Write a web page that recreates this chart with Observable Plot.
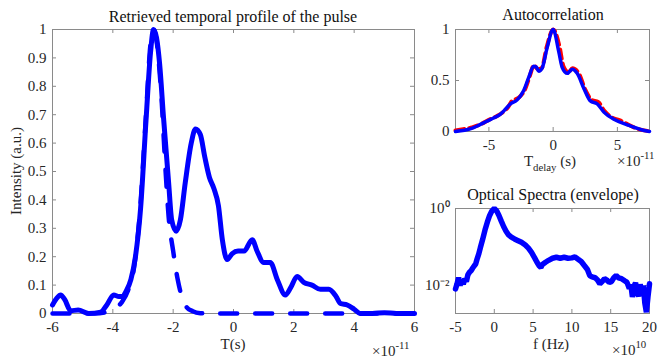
<!DOCTYPE html>
<html><head><meta charset="utf-8">
<script src="https://cdn.jsdelivr.net/npm/d3@7"></script>
<script src="https://cdn.jsdelivr.net/npm/@observablehq/plot@0.6"></script>
<style>
body{margin:0;background:#fff;}
#fig{position:relative;width:658px;height:360px;overflow:hidden;background:#fff}
#fig svg{position:absolute}
</style></head><body><div id="fig"></div>
<script>
// ---- Retrieved temporal profile (T in units of 1e-11 s)
const pulseT = [-6,-5.85,-5.73,-5.6,-5.4,-5.15,-4.8,-4.4,-4.2,-3.97,-3.8,-3.7,-3.55,-3.4,-3.25,-3.08,-2.9,-2.75,-2.65,-2.55,-2.45,-2.32,-2.15,-2.05,-1.9,-1.76,-1.6,-1.4,-1.26,-1.1,-0.95,-0.8,-0.65,-0.5,-0.37,-0.21,-0.05,0.15,0.35,0.62,0.78,1.0,1.22,1.45,1.72,1.89,2.11,2.33,2.6,2.88,3.16,3.4,3.55,3.77,4.0,4.2,4.6,5.0,5.4,6];
const pulseI = [0.03,0.055,0.065,0.05,0.01,0.012,0,0.005,0.03,0.065,0.06,0.06,0.08,0.12,0.2,0.37,0.68,0.92,1,0.97,0.88,0.69,0.46,0.33,0.29,0.33,0.46,0.6,0.65,0.63,0.55,0.48,0.44,0.38,0.26,0.19,0.21,0.22,0.22,0.26,0.22,0.18,0.18,0.12,0.065,0.09,0.13,0.11,0.10,0.085,0.085,0.06,0.035,0.03,0.015,0,0,0.003,0,0];
const fitT = [-6,-4.6,-4.2,-3.9,-3.7,-3.5,-3.3,-3.1,-2.9,-2.75,-2.65,-2.55,-2.4,-2.25,-2.15,-2.0,-1.85,-1.7,-1.55,-1.35,-1.1,-0.9,6];
const fitI = [0,0,0.005,0.02,0.04,0.08,0.16,0.36,0.7,0.95,1,0.96,0.78,0.5,0.34,0.22,0.12,0.055,0.022,0.008,0.001,0,0];
const mainXTicks = [-6,-4,-2,0,2,4,6];
const mainYTicks = [0,0.1,0.2,0.3,0.4,0.5,0.6,0.7,0.8,0.9,1];

// ---- Autocorrelation (delay in units of 1e-11 s)
const acDelay = [-7.6,-6.9,-6.46,-5.8,-5.16,-4.6,-4.1,-3.7,-3.33,-2.8,-2.3,-1.9,-1.52,-1.3,-1.12,-0.86,-0.47,0,0.44,0.7,1.1,1.48,1.87,2.4,2.9,3.44,3.95,4.73,5.78,6.8,7.5];
const acRetrieved = [0,0.012,0.025,0.06,0.1,0.135,0.17,0.22,0.27,0.31,0.40,0.53,0.64,0.63,0.59,0.62,0.82,1,0.78,0.63,0.57,0.61,0.57,0.42,0.30,0.27,0.19,0.12,0.065,0.02,0];
const acMeasDelay = [-7.6,-7.0,-6.3,-5.5,-5.0,-4.4,-3.9,-3.5,-3.2,-2.7,-2.2,-1.8,-1.5,-1.2,-0.9,-0.5,0,0.5,0.8,1.2,1.5,2.0,2.5,3.0,3.5,4.0,4.7,5.2,5.8,6.5,7.5];
const acMeasured = [0.01,0.022,0.04,0.08,0.115,0.15,0.19,0.24,0.3,0.33,0.41,0.55,0.65,0.61,0.62,0.83,1,0.83,0.64,0.58,0.62,0.57,0.41,0.31,0.29,0.2,0.13,0.11,0.07,0.03,0.003];
const acXTicks = [-5,0,5];
const acYTicks = [0,0.5,1];

// ---- Optical spectrum envelope (f in units of 1e10 Hz)
const specF = [-5,-4.8,-4.6,-4.4,-4.2,-4,-3.8,-3.6,-3.4,-3.2,-3,-2.8,-2.6,-2.4,-2.2,-2,-1.8,-1.5,-1.2,-0.9,-0.6,-0.3,0,0.3,0.6,0.9,1.2,1.5,1.8,2.2,2.6,3,3.5,4,4.4,4.8,5.2,5.5,5.8,6,6.2,6.6,7,7.5,8,8.5,9,9.5,10,10.4,10.8,11.2,11.6,12,12.3,12.6,13,13.3,13.6,13.9,14.2,14.5,14.8,15.1,15.4,15.7,16,16.4,16.8,17.1,17.4,17.6,17.8,18,18.2,18.4,18.6,18.8,19,19.2,19.4,19.6,19.8,20];
const specI = [0.0081,0.011,0.016,0.010,0.014,0.0107,0.015,0.0126,0.019,0.022,0.024,0.028,0.032,0.036,0.050,0.066,0.095,0.158,0.275,0.44,0.66,0.87,1.0,0.87,0.66,0.47,0.34,0.26,0.21,0.18,0.162,0.148,0.132,0.112,0.093,0.072,0.052,0.040,0.032,0.0295,0.035,0.040,0.045,0.051,0.054,0.051,0.054,0.051,0.052,0.055,0.048,0.042,0.033,0.026,0.018,0.0166,0.0158,0.0138,0.011,0.0126,0.015,0.0138,0.012,0.0126,0.0158,0.018,0.0158,0.015,0.0132,0.012,0.0083,0.0105,0.005,0.0095,0.0117,0.0066,0.0052,0.0107,0.0063,0.010,0.0035,0.002,0.005,0.011];
const specXTicks = [-5,0,5,10,15,20];
const specYTicks = [1,0.01];
const specYLabels = ["10\u2070","10\u207B\u00B2"];

const FONT = "Liberation Serif";
const INK = "#262626";
const AX = "#8a8a8a";
const BLUE = "#0000ff";

function panel({left, top, width, height, m, x, y, xTicks, yTicks, yFmt, marks}) {
  const iw = width - m[1] - m[3], ih = height - m[0] - m[2];
  const svg = Plot.plot({
    width, height,
    marginTop: m[0], marginRight: m[1], marginBottom: m[2], marginLeft: m[3],
    x, y,
    style: {background: "transparent", overflow: "visible"},
    marks: [
      Plot.frame({stroke: AX, strokeWidth: 1}),
      Plot.tickX(xTicks, {x: d => d, insetTop: ih - 4, stroke: AX}),
      Plot.tickX(xTicks, {x: d => d, insetBottom: ih - 4, stroke: AX}),
      Plot.tickY(yTicks, {y: d => d, insetLeft: iw - 4, stroke: AX}),
      Plot.tickY(yTicks, {y: d => d, insetRight: iw - 4, stroke: AX}),
      Plot.axisX({ticks: xTicks, tickSize: 0, tickPadding: 8, tickFormat: d => String(d), label: null, fill: INK, fontSize: 15, fontFamily: FONT, fontVariant: "normal"}),
      Plot.axisY({ticks: yTicks, tickSize: 0, tickPadding: 6, tickFormat: yFmt || (d => String(d)), label: null, fill: INK, fontSize: 15, fontFamily: FONT, fontVariant: "normal"}),
      ...marks
    ]
  });
  svg.style.left = left + "px";
  svg.style.top = top + "px";
  svg.setAttribute("font-family", FONT);
  document.getElementById("fig").appendChild(svg);
}

// main panel
panel({
  left: 0, top: 0, width: 430, height: 360, m: [29, 16, 47, 52],
  x: {domain: [-6, 6]}, y: {domain: [0, 1]},
  xTicks: mainXTicks, yTicks: mainYTicks,
  marks: [
    Plot.line(fitI, {x: fitT, y: fitI, stroke: BLUE, strokeWidth: 4.5, strokeDasharray: "17,18", curve: "monotone-x"}),
    Plot.line(pulseI, {x: pulseT, y: pulseI, stroke: BLUE, strokeWidth: 5, curve: "monotone-x"})
  ]
});

// autocorrelation panel
panel({
  left: 420, top: 0, width: 238, height: 180, m: [29, 9, 49, 35],
  x: {domain: [-7.6, 7.5]}, y: {domain: [0, 1]},
  xTicks: acXTicks, yTicks: acYTicks,
  marks: [
    Plot.line(acMeasured, {x: acMeasDelay, y: acMeasured, stroke: "#ff0000", strokeWidth: 4, strokeDasharray: "9,5", curve: "monotone-x"}),
    Plot.line(acRetrieved, {x: acDelay, y: acRetrieved, stroke: BLUE, strokeWidth: 3.5, curve: "monotone-x"})
  ]
});

// spectrum panel
panel({
  left: 420, top: 170, width: 238, height: 190, m: [38, 9, 47, 35],
  x: {domain: [-5, 20]}, y: {type: "log", domain: [Math.pow(10, -2.73), 1]},
  xTicks: specXTicks, yTicks: specYTicks,
  yFmt: d => specYLabels[specYTicks.indexOf(d)],
  marks: [
    Plot.line(specI, {x: specF, y: specI, stroke: BLUE, strokeWidth: 5.5, strokeLinejoin: "miter"})
  ]
});

// overlay text: titles and axis labels
const ov = d3.select("#fig").append("svg")
  .attr("width", 658).attr("height", 360)
  .style("left", "0px").style("top", "0px")
  .style("pointer-events", "none")
  .attr("font-family", FONT).attr("fill", INK);

function txt(x, y, parts, size, anchor = "middle", rot = 0) {
  const t = ov.append("text").attr("text-anchor", anchor).attr("font-size", size)
    .attr("transform", `translate(${x},${y}) rotate(${rot})`);
  for (const p of parts) {
    const s = t.append("tspan").text(p.t);
    if (p.sup) s.attr("font-size", size * 0.72).attr("dy", -7);
    if (p.sub) s.attr("font-size", size * 0.72).attr("dy", 5);
    if (p.back) s.attr("dy", p.back);
  }
  return t;
}
const titles = ["Retrieved temporal profile of the pulse", "Autocorrelation", "Optical Spectra (envelope)"];
txt(233, 22, [{t: titles[0]}], 16, "middle").attr("fill", "#111");
txt(553, 20, [{t: titles[1]}], 16, "middle").attr("fill", "#111");
txt(553, 200, [{t: titles[2]}], 16, "middle").attr("fill", "#111");

txt(233, 349, [{t: "T(s)"}], 15);
txt(21, 171, [{t: "Intensity (a.u.)"}], 15, "middle", -90);
txt(372, 356, [{t: "\u00D710"}, {t: "-11", sup: true}], 15, "start");

txt(550, 166, [{t: "T"}, {t: "delay", sub: true}, {t: " (s)", back: -5}], 15);
txt(617, 166, [{t: "\u00D710"}, {t: "-11", sup: true}], 15, "start");

txt(551, 349, [{t: "f (Hz)"}], 15);
txt(612, 355, [{t: "\u00D710"}, {t: "10", sup: true}], 15, "start");
</script></body></html>
